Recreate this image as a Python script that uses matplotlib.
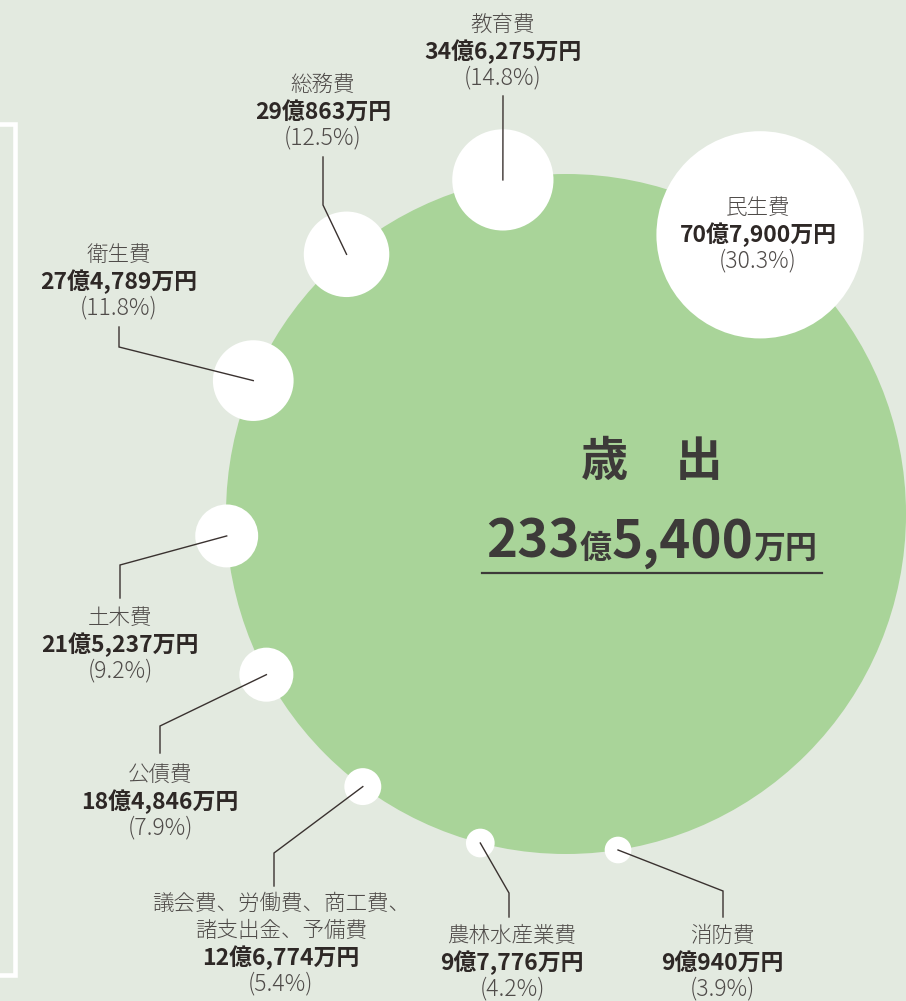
import matplotlib
matplotlib.use('Agg')
import matplotlib.pyplot as plt
import numpy as np
from matplotlib.patches import Circle

plt.rcParams['font.family'] = ['Noto Sans CJK JP', 'DejaVu Sans']

# data
names = ['民生費', '教育費', '総務費', '衛生費', '土木費', '公債費',
         '議会費、労働費、商工費、\n諸支出金、予備費', '農林水産業費', '消防費']
amounts = ['70億7,900万円', '34億6,275万円', '29億863万円', '27億4,789万円',
           '21億5,237万円', '18億4,846万円', '12億6,774万円', '9億7,776万円',
           '9億940万円']
shares = [30.3, 14.8, 12.5, 11.8, 9.2, 7.9, 5.4, 4.2, 3.9]
total_oku = '233'
total_man = '5,400'

# layout (pixel coords, y downwards)
BG = '#e3eae0'
GREEN = '#a9d499'
INK = '#2e2826'
GREY = '#4f4b49'
cx, cy, R = 566, 514, 340
angles = [55.2, 100.7, 130.2, 156.9, 183.7, 208.2, 233.3, 255.4, 278.8]
label_pos = [(758, 235), (503, 52), (323, 112), (119, 282), (120, 645),
             (160, 802), (281, 958), (512, 963), (722, 963)]
leaders = [None, [(503, 96)], [(323, 205), (323, 157)], [(119, 347), (119, 327)],
           [(120, 565), (120, 598)], [(160, 726), (160, 753)],
           [(274, 853), (274, 886)], [(509, 893), (509, 917)],
           [(723, 891), (723, 917)]]
scale = 3.42  # px of radius per percent

fig = plt.figure(figsize=(9.06, 10.01), dpi=100)
fig.patch.set_facecolor(BG)
ax = fig.add_axes([0, 0, 1, 1])
ax.set_xlim(0, 906)
ax.set_ylim(1001, 0)
ax.axis('off')

# white bracket on the left
ax.plot([0, 15, 15, 0], [124, 124, 975, 975], color='white', lw=3.3,
        solid_joinstyle='miter', zorder=1)

ax.add_patch(Circle((cx, cy), R, color=GREEN, lw=0, zorder=2))

for i, share in enumerate(shares):
    a = np.radians(angles[i])
    px, py = cx + R * np.cos(a), cy - R * np.sin(a)
    ax.add_patch(Circle((px, py), share * scale, color='white', lw=0, zorder=3))
    if leaders[i]:
        xs = [px] + [p[0] for p in leaders[i]]
        ys = [py] + [p[1] for p in leaders[i]]
        ax.plot(xs, ys, color='#3a3230', lw=1.0, zorder=4,
                solid_joinstyle='miter')

    lx, ly = label_pos[i]
    name_lines = names[i].split('\n')
    for k, line in enumerate(name_lines):
        yy = ly - 27 - 27 * (len(name_lines) - 1 - k)
        ax.text(lx, yy, line, ha='center', va='center', fontsize=15.5,
                fontweight='light', color=GREY, zorder=5)
    ax.text(lx, ly, amounts[i], ha='center', va='center', fontsize=16.5,
            fontweight='bold', color=INK, zorder=5)
    ax.text(lx, ly + 26, '(%.1f%%)' % share, ha='center', va='center',
            fontsize=16.5, fontweight='light', color=GREY, zorder=5)

# centre title
ax.text(652, 462, '歳　出', ha='center', va='center', fontsize=34,
        fontweight='bold', color='#3d3a39', zorder=5)

pieces = [(total_oku, 38), ('億', 23), (total_man, 38), ('万円', 23)]
fig.canvas.draw()
renderer = fig.canvas.get_renderer()
inv = ax.transData.inverted()
texts = []
widths = []
for s, size in pieces:
    t = ax.text(0, 558, s, ha='left', va='baseline', fontsize=size,
                fontweight='bold', color='#3d3a39', zorder=5)
    bb = t.get_window_extent(renderer)
    x0 = inv.transform((bb.x0, 0))[0]
    x1 = inv.transform((bb.x1, 0))[0]
    texts.append(t)
    widths.append(x1 - x0)
start = 652 - sum(widths) / 2
for t, w in zip(texts, widths):
    t.set_x(start)
    start += w
ax.plot([482, 822], [573, 573], color='#3d3a39', lw=1.6, zorder=5)

fig.savefig('out.png', dpi=100, facecolor=BG)
